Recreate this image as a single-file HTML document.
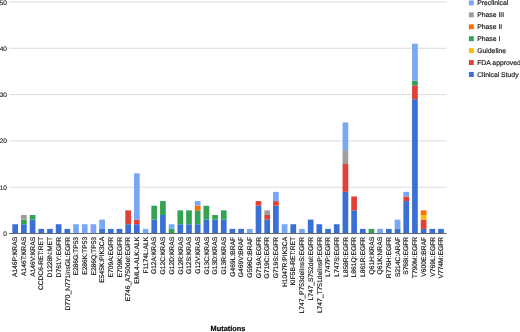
<!DOCTYPE html>
<html><head><meta charset="utf-8"><title>Mutations</title>
<style>html,body{margin:0;padding:0;background:#fff;overflow:hidden}body{width:520px;height:332px;position:relative}</style></head>
<body>
<svg width="520" height="332" viewBox="0 0 520 332" style="display:block;position:absolute;left:0;top:0" text-rendering="geometricPrecision" font-family="'Liberation Sans', Arial, sans-serif">
<rect width="520" height="332" fill="#fff"/>
<rect x="9.1" y="186.70" width="437.5" height="1" fill="#dcdcdc"/>
<rect x="9.1" y="140.40" width="437.5" height="1" fill="#dcdcdc"/>
<rect x="9.1" y="94.10" width="437.5" height="1" fill="#dcdcdc"/>
<rect x="9.1" y="47.80" width="437.5" height="1" fill="#dcdcdc"/>
<rect x="9.1" y="1.50" width="437.5" height="1" fill="#dcdcdc"/>
<rect x="12.34" y="224.24" width="5.7" height="9.26" fill="#3a6fd6"/>
<rect x="21.03" y="224.24" width="5.7" height="9.26" fill="#3a6fd6"/>
<rect x="21.03" y="219.61" width="5.7" height="4.63" fill="#33a352"/>
<rect x="21.03" y="214.98" width="5.7" height="4.63" fill="#9e9e9e"/>
<rect x="29.72" y="219.61" width="5.7" height="13.89" fill="#3a6fd6"/>
<rect x="29.72" y="214.98" width="5.7" height="4.63" fill="#33a352"/>
<rect x="38.41" y="228.87" width="5.7" height="4.63" fill="#3a6fd6"/>
<rect x="47.10" y="228.87" width="5.7" height="4.63" fill="#3a6fd6"/>
<rect x="55.79" y="224.24" width="5.7" height="9.26" fill="#3a6fd6"/>
<rect x="64.48" y="228.87" width="5.7" height="4.63" fill="#3a6fd6"/>
<rect x="73.17" y="224.24" width="5.7" height="9.26" fill="#78a7f5"/>
<rect x="81.86" y="224.24" width="5.7" height="9.26" fill="#78a7f5"/>
<rect x="90.55" y="224.24" width="5.7" height="9.26" fill="#78a7f5"/>
<rect x="99.24" y="228.87" width="5.7" height="4.63" fill="#3a6fd6"/>
<rect x="99.24" y="219.61" width="5.7" height="9.26" fill="#78a7f5"/>
<rect x="107.93" y="228.87" width="5.7" height="4.63" fill="#3a6fd6"/>
<rect x="116.62" y="228.87" width="5.7" height="4.63" fill="#3a6fd6"/>
<rect x="125.31" y="224.24" width="5.7" height="9.26" fill="#3a6fd6"/>
<rect x="125.31" y="210.35" width="5.7" height="13.89" fill="#e04035"/>
<rect x="134.00" y="224.24" width="5.7" height="9.26" fill="#3a6fd6"/>
<rect x="134.00" y="219.61" width="5.7" height="4.63" fill="#e04035"/>
<rect x="134.00" y="173.31" width="5.7" height="46.30" fill="#78a7f5"/>
<rect x="142.69" y="228.87" width="5.7" height="4.63" fill="#78a7f5"/>
<rect x="151.38" y="219.61" width="5.7" height="13.89" fill="#3a6fd6"/>
<rect x="151.38" y="205.72" width="5.7" height="13.89" fill="#33a352"/>
<rect x="160.07" y="214.98" width="5.7" height="18.52" fill="#3a6fd6"/>
<rect x="160.07" y="201.09" width="5.7" height="13.89" fill="#33a352"/>
<rect x="168.76" y="228.87" width="5.7" height="4.63" fill="#33a352"/>
<rect x="168.76" y="224.24" width="5.7" height="4.63" fill="#78a7f5"/>
<rect x="177.45" y="224.24" width="5.7" height="9.26" fill="#3a6fd6"/>
<rect x="177.45" y="210.35" width="5.7" height="13.89" fill="#33a352"/>
<rect x="186.14" y="224.24" width="5.7" height="9.26" fill="#3a6fd6"/>
<rect x="186.14" y="210.35" width="5.7" height="13.89" fill="#33a352"/>
<rect x="194.83" y="224.24" width="5.7" height="9.26" fill="#3a6fd6"/>
<rect x="194.83" y="210.35" width="5.7" height="13.89" fill="#33a352"/>
<rect x="194.83" y="205.72" width="5.7" height="4.63" fill="#ff6d00"/>
<rect x="194.83" y="201.09" width="5.7" height="4.63" fill="#78a7f5"/>
<rect x="203.52" y="219.61" width="5.7" height="13.89" fill="#3a6fd6"/>
<rect x="203.52" y="205.72" width="5.7" height="13.89" fill="#33a352"/>
<rect x="212.21" y="219.61" width="5.7" height="13.89" fill="#3a6fd6"/>
<rect x="212.21" y="214.98" width="5.7" height="4.63" fill="#33a352"/>
<rect x="220.90" y="219.61" width="5.7" height="13.89" fill="#3a6fd6"/>
<rect x="220.90" y="210.35" width="5.7" height="9.26" fill="#33a352"/>
<rect x="229.59" y="228.87" width="5.7" height="4.63" fill="#3a6fd6"/>
<rect x="238.28" y="228.87" width="5.7" height="4.63" fill="#3a6fd6"/>
<rect x="246.97" y="228.87" width="5.7" height="4.63" fill="#78a7f5"/>
<rect x="255.66" y="205.72" width="5.7" height="27.78" fill="#3a6fd6"/>
<rect x="255.66" y="201.09" width="5.7" height="4.63" fill="#e04035"/>
<rect x="264.35" y="219.61" width="5.7" height="13.89" fill="#3a6fd6"/>
<rect x="264.35" y="214.98" width="5.7" height="4.63" fill="#e04035"/>
<rect x="264.35" y="210.35" width="5.7" height="4.63" fill="#9e9e9e"/>
<rect x="273.04" y="205.72" width="5.7" height="27.78" fill="#3a6fd6"/>
<rect x="273.04" y="201.09" width="5.7" height="4.63" fill="#e04035"/>
<rect x="273.04" y="191.83" width="5.7" height="9.26" fill="#78a7f5"/>
<rect x="281.73" y="224.24" width="5.7" height="9.26" fill="#78a7f5"/>
<rect x="290.42" y="224.24" width="5.7" height="9.26" fill="#3a6fd6"/>
<rect x="299.11" y="228.87" width="5.7" height="4.63" fill="#78a7f5"/>
<rect x="307.80" y="219.61" width="5.7" height="13.89" fill="#3a6fd6"/>
<rect x="316.49" y="224.24" width="5.7" height="9.26" fill="#3a6fd6"/>
<rect x="325.18" y="228.87" width="5.7" height="4.63" fill="#3a6fd6"/>
<rect x="333.87" y="224.24" width="5.7" height="9.26" fill="#3a6fd6"/>
<rect x="342.56" y="191.83" width="5.7" height="41.67" fill="#3a6fd6"/>
<rect x="342.56" y="164.05" width="5.7" height="27.78" fill="#e04035"/>
<rect x="342.56" y="150.16" width="5.7" height="13.89" fill="#9e9e9e"/>
<rect x="342.56" y="122.38" width="5.7" height="27.78" fill="#78a7f5"/>
<rect x="351.25" y="210.35" width="5.7" height="23.15" fill="#3a6fd6"/>
<rect x="351.25" y="196.46" width="5.7" height="13.89" fill="#e04035"/>
<rect x="359.94" y="228.87" width="5.7" height="4.63" fill="#3a6fd6"/>
<rect x="368.63" y="228.87" width="5.7" height="4.63" fill="#33a352"/>
<rect x="377.32" y="228.87" width="5.7" height="4.63" fill="#78a7f5"/>
<rect x="386.01" y="228.87" width="5.7" height="4.63" fill="#3a6fd6"/>
<rect x="394.70" y="228.87" width="5.7" height="4.63" fill="#3a6fd6"/>
<rect x="394.70" y="219.61" width="5.7" height="9.26" fill="#78a7f5"/>
<rect x="403.39" y="201.09" width="5.7" height="32.41" fill="#3a6fd6"/>
<rect x="403.39" y="196.46" width="5.7" height="4.63" fill="#e04035"/>
<rect x="403.39" y="191.83" width="5.7" height="4.63" fill="#78a7f5"/>
<rect x="412.08" y="99.23" width="5.7" height="134.27" fill="#3a6fd6"/>
<rect x="412.08" y="85.34" width="5.7" height="13.89" fill="#e04035"/>
<rect x="412.08" y="80.71" width="5.7" height="4.63" fill="#33a352"/>
<rect x="412.08" y="43.67" width="5.7" height="37.04" fill="#78a7f5"/>
<rect x="420.77" y="228.87" width="5.7" height="4.63" fill="#3a6fd6"/>
<rect x="420.77" y="219.61" width="5.7" height="9.26" fill="#e04035"/>
<rect x="420.77" y="214.98" width="5.7" height="4.63" fill="#fbbc04"/>
<rect x="420.77" y="210.35" width="5.7" height="4.63" fill="#ff6d00"/>
<rect x="429.46" y="228.87" width="5.7" height="4.63" fill="#3a6fd6"/>
<rect x="438.15" y="228.87" width="5.7" height="4.63" fill="#3a6fd6"/>
<rect x="9.1" y="233.05" width="437.5" height="0.85" fill="#555"/>
<text x="7" y="236.00" font-size="6.55" text-anchor="end" fill="#1a1a1a" stroke="#1a1a1a" stroke-width="0.12">0</text>
<text x="7" y="189.70" font-size="6.55" text-anchor="end" fill="#1a1a1a" stroke="#1a1a1a" stroke-width="0.12">10</text>
<text x="7" y="143.40" font-size="6.55" text-anchor="end" fill="#1a1a1a" stroke="#1a1a1a" stroke-width="0.12">20</text>
<text x="7" y="97.10" font-size="6.55" text-anchor="end" fill="#1a1a1a" stroke="#1a1a1a" stroke-width="0.12">30</text>
<text x="7" y="50.80" font-size="6.55" text-anchor="end" fill="#1a1a1a" stroke="#1a1a1a" stroke-width="0.12">40</text>
<text x="7" y="4.50" font-size="6.55" text-anchor="end" fill="#1a1a1a" stroke="#1a1a1a" stroke-width="0.12">50</text>
<text transform="translate(17.39,236.9) rotate(-90)" font-size="6.7" text-anchor="end" fill="#1a1a1a" stroke="#1a1a1a" stroke-width="0.18">A146P:KRAS</text>
<text transform="translate(26.08,236.9) rotate(-90)" font-size="6.7" text-anchor="end" fill="#1a1a1a" stroke="#1a1a1a" stroke-width="0.18">A146T:KRAS</text>
<text transform="translate(34.77,236.9) rotate(-90)" font-size="6.7" text-anchor="end" fill="#1a1a1a" stroke="#1a1a1a" stroke-width="0.18">A146V:KRAS</text>
<text transform="translate(43.46,236.9) rotate(-90)" font-size="6.7" text-anchor="end" fill="#1a1a1a" stroke="#1a1a1a" stroke-width="0.18">CCDC6-RET:RET</text>
<text transform="translate(52.15,236.9) rotate(-90)" font-size="6.7" text-anchor="end" fill="#1a1a1a" stroke="#1a1a1a" stroke-width="0.18">D1228N:MET</text>
<text transform="translate(60.84,236.9) rotate(-90)" font-size="6.7" text-anchor="end" fill="#1a1a1a" stroke="#1a1a1a" stroke-width="0.18">D761Y:EGFR</text>
<text transform="translate(69.53,236.9) rotate(-90)" font-size="6.7" text-anchor="end" fill="#1a1a1a" stroke="#1a1a1a" stroke-width="0.18">D770_N771insGL:EGFR</text>
<text transform="translate(78.22,236.9) rotate(-90)" font-size="6.7" text-anchor="end" fill="#1a1a1a" stroke="#1a1a1a" stroke-width="0.18">E286G:TP53</text>
<text transform="translate(86.91,236.9) rotate(-90)" font-size="6.7" text-anchor="end" fill="#1a1a1a" stroke="#1a1a1a" stroke-width="0.18">E286K:TP53</text>
<text transform="translate(95.60,236.9) rotate(-90)" font-size="6.7" text-anchor="end" fill="#1a1a1a" stroke="#1a1a1a" stroke-width="0.18">E286Q:TP53</text>
<text transform="translate(104.29,236.9) rotate(-90)" font-size="6.7" text-anchor="end" fill="#1a1a1a" stroke="#1a1a1a" stroke-width="0.18">E545K:PIK3CA</text>
<text transform="translate(112.98,236.9) rotate(-90)" font-size="6.7" text-anchor="end" fill="#1a1a1a" stroke="#1a1a1a" stroke-width="0.18">E709A:EGFR</text>
<text transform="translate(121.67,236.9) rotate(-90)" font-size="6.7" text-anchor="end" fill="#1a1a1a" stroke="#1a1a1a" stroke-width="0.18">E709K:EGFR</text>
<text transform="translate(130.36,236.9) rotate(-90)" font-size="6.7" text-anchor="end" fill="#1a1a1a" stroke="#1a1a1a" stroke-width="0.18">E746_A750del:EGFR</text>
<text transform="translate(139.05,236.9) rotate(-90)" font-size="6.7" text-anchor="end" fill="#1a1a1a" stroke="#1a1a1a" stroke-width="0.18">EML4-ALK:ALK</text>
<text transform="translate(147.74,236.9) rotate(-90)" font-size="6.7" text-anchor="end" fill="#1a1a1a" stroke="#1a1a1a" stroke-width="0.18">F1174L:ALK</text>
<text transform="translate(156.43,236.9) rotate(-90)" font-size="6.7" text-anchor="end" fill="#1a1a1a" stroke="#1a1a1a" stroke-width="0.18">G12A:KRAS</text>
<text transform="translate(165.12,236.9) rotate(-90)" font-size="6.7" text-anchor="end" fill="#1a1a1a" stroke="#1a1a1a" stroke-width="0.18">G12C:KRAS</text>
<text transform="translate(173.81,236.9) rotate(-90)" font-size="6.7" text-anchor="end" fill="#1a1a1a" stroke="#1a1a1a" stroke-width="0.18">G12D:KRAS</text>
<text transform="translate(182.50,236.9) rotate(-90)" font-size="6.7" text-anchor="end" fill="#1a1a1a" stroke="#1a1a1a" stroke-width="0.18">G12R:KRAS</text>
<text transform="translate(191.19,236.9) rotate(-90)" font-size="6.7" text-anchor="end" fill="#1a1a1a" stroke="#1a1a1a" stroke-width="0.18">G12S:KRAS</text>
<text transform="translate(199.88,236.9) rotate(-90)" font-size="6.7" text-anchor="end" fill="#1a1a1a" stroke="#1a1a1a" stroke-width="0.18">G12V:KRAS</text>
<text transform="translate(208.57,236.9) rotate(-90)" font-size="6.7" text-anchor="end" fill="#1a1a1a" stroke="#1a1a1a" stroke-width="0.18">G13C:KRAS</text>
<text transform="translate(217.26,236.9) rotate(-90)" font-size="6.7" text-anchor="end" fill="#1a1a1a" stroke="#1a1a1a" stroke-width="0.18">G13D:KRAS</text>
<text transform="translate(225.95,236.9) rotate(-90)" font-size="6.7" text-anchor="end" fill="#1a1a1a" stroke="#1a1a1a" stroke-width="0.18">G13R:KRAS</text>
<text transform="translate(234.64,236.9) rotate(-90)" font-size="6.7" text-anchor="end" fill="#1a1a1a" stroke="#1a1a1a" stroke-width="0.18">G469L:BRAF</text>
<text transform="translate(243.33,236.9) rotate(-90)" font-size="6.7" text-anchor="end" fill="#1a1a1a" stroke="#1a1a1a" stroke-width="0.18">G469V:BRAF</text>
<text transform="translate(252.02,236.9) rotate(-90)" font-size="6.7" text-anchor="end" fill="#1a1a1a" stroke="#1a1a1a" stroke-width="0.18">G596C:BRAF</text>
<text transform="translate(260.71,236.9) rotate(-90)" font-size="6.7" text-anchor="end" fill="#1a1a1a" stroke="#1a1a1a" stroke-width="0.18">G719A:EGFR</text>
<text transform="translate(269.40,236.9) rotate(-90)" font-size="6.7" text-anchor="end" fill="#1a1a1a" stroke="#1a1a1a" stroke-width="0.18">G719C:EGFR</text>
<text transform="translate(278.09,236.9) rotate(-90)" font-size="6.7" text-anchor="end" fill="#1a1a1a" stroke="#1a1a1a" stroke-width="0.18">G719S:EGFR</text>
<text transform="translate(286.78,236.9) rotate(-90)" font-size="6.7" text-anchor="end" fill="#1a1a1a" stroke="#1a1a1a" stroke-width="0.18">H1047R:PIK3CA</text>
<text transform="translate(295.47,236.9) rotate(-90)" font-size="6.7" text-anchor="end" fill="#1a1a1a" stroke="#1a1a1a" stroke-width="0.18">KIF5B-RET:RET</text>
<text transform="translate(304.16,236.9) rotate(-90)" font-size="6.7" text-anchor="end" fill="#1a1a1a" stroke="#1a1a1a" stroke-width="0.18">L747_P753delinsS:EGFR</text>
<text transform="translate(312.85,236.9) rotate(-90)" font-size="6.7" text-anchor="end" fill="#1a1a1a" stroke="#1a1a1a" stroke-width="0.18">L747_S752del:EGFR</text>
<text transform="translate(321.54,236.9) rotate(-90)" font-size="6.7" text-anchor="end" fill="#1a1a1a" stroke="#1a1a1a" stroke-width="0.18">L747_T751delinsP:EGFR</text>
<text transform="translate(330.23,236.9) rotate(-90)" font-size="6.7" text-anchor="end" fill="#1a1a1a" stroke="#1a1a1a" stroke-width="0.18">L747P:EGFR</text>
<text transform="translate(338.92,236.9) rotate(-90)" font-size="6.7" text-anchor="end" fill="#1a1a1a" stroke="#1a1a1a" stroke-width="0.18">L747S:EGFR</text>
<text transform="translate(347.61,236.9) rotate(-90)" font-size="6.7" text-anchor="end" fill="#1a1a1a" stroke="#1a1a1a" stroke-width="0.18">L858R:EGFR</text>
<text transform="translate(356.30,236.9) rotate(-90)" font-size="6.7" text-anchor="end" fill="#1a1a1a" stroke="#1a1a1a" stroke-width="0.18">L861Q:EGFR</text>
<text transform="translate(364.99,236.9) rotate(-90)" font-size="6.7" text-anchor="end" fill="#1a1a1a" stroke="#1a1a1a" stroke-width="0.18">L861R:EGFR</text>
<text transform="translate(373.68,236.9) rotate(-90)" font-size="6.7" text-anchor="end" fill="#1a1a1a" stroke="#1a1a1a" stroke-width="0.18">Q61H:KRAS</text>
<text transform="translate(382.37,236.9) rotate(-90)" font-size="6.7" text-anchor="end" fill="#1a1a1a" stroke="#1a1a1a" stroke-width="0.18">Q61K:NRAS</text>
<text transform="translate(391.06,236.9) rotate(-90)" font-size="6.7" text-anchor="end" fill="#1a1a1a" stroke="#1a1a1a" stroke-width="0.18">R776H:EGFR</text>
<text transform="translate(399.75,236.9) rotate(-90)" font-size="6.7" text-anchor="end" fill="#1a1a1a" stroke="#1a1a1a" stroke-width="0.18">S214C:ARAF</text>
<text transform="translate(408.44,236.9) rotate(-90)" font-size="6.7" text-anchor="end" fill="#1a1a1a" stroke="#1a1a1a" stroke-width="0.18">S768I:EGFR</text>
<text transform="translate(417.13,236.9) rotate(-90)" font-size="6.7" text-anchor="end" fill="#1a1a1a" stroke="#1a1a1a" stroke-width="0.18">T790M:EGFR</text>
<text transform="translate(425.82,236.9) rotate(-90)" font-size="6.7" text-anchor="end" fill="#1a1a1a" stroke="#1a1a1a" stroke-width="0.18">V600E:BRAF</text>
<text transform="translate(434.51,236.9) rotate(-90)" font-size="6.7" text-anchor="end" fill="#1a1a1a" stroke="#1a1a1a" stroke-width="0.18">V769L:EGFR</text>
<text transform="translate(443.20,236.9) rotate(-90)" font-size="6.7" text-anchor="end" fill="#1a1a1a" stroke="#1a1a1a" stroke-width="0.18">V774M:EGFR</text>
<text x="228" y="331.4" font-size="7.38" font-weight="bold" text-anchor="middle" fill="#000" stroke="#000" stroke-width="0.15">Mutations</text>
<rect x="468.9" y="0.45" width="4.9" height="4.9" fill="#78a7f5"/>
<text x="477.2" y="5.40" font-size="6.83" fill="#1a1a1a" stroke="#1a1a1a" stroke-width="0.18">Preclinical</text>
<rect x="468.9" y="12.38" width="4.9" height="4.9" fill="#9e9e9e"/>
<text x="477.2" y="17.33" font-size="6.83" fill="#1a1a1a" stroke="#1a1a1a" stroke-width="0.18">Phase III</text>
<rect x="468.9" y="24.31" width="4.9" height="4.9" fill="#ff6d00"/>
<text x="477.2" y="29.26" font-size="6.83" fill="#1a1a1a" stroke="#1a1a1a" stroke-width="0.18">Phase II</text>
<rect x="468.9" y="36.24" width="4.9" height="4.9" fill="#33a352"/>
<text x="477.2" y="41.19" font-size="6.83" fill="#1a1a1a" stroke="#1a1a1a" stroke-width="0.18">Phase I</text>
<rect x="468.9" y="48.17" width="4.9" height="4.9" fill="#fbbc04"/>
<text x="477.2" y="53.12" font-size="6.83" fill="#1a1a1a" stroke="#1a1a1a" stroke-width="0.18">Guideline</text>
<rect x="468.9" y="60.10" width="4.9" height="4.9" fill="#e04035"/>
<text x="477.2" y="65.05" font-size="6.83" fill="#1a1a1a" stroke="#1a1a1a" stroke-width="0.18">FDA approved</text>
<rect x="468.9" y="72.03" width="4.9" height="4.9" fill="#3a6fd6"/>
<text x="477.2" y="76.98" font-size="6.83" fill="#1a1a1a" stroke="#1a1a1a" stroke-width="0.18">Clinical Study</text>
</svg>
</body></html>
